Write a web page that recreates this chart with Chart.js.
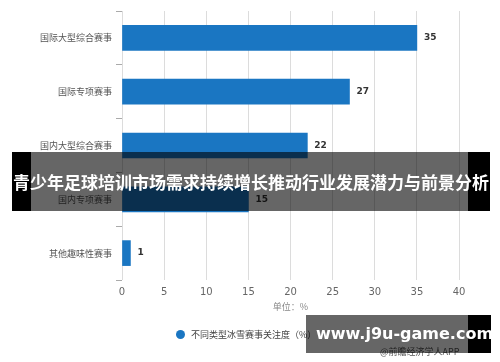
<!DOCTYPE html>
<html>
<head>
<meta charset="utf-8">
<script src="https://cdn.jsdelivr.net/npm/chart.js@4"></script>
<style>
  body { margin: 0; background: #fff; }
  #wrap { position: relative; width: 500px; height: 362px; font-family: "Noto Sans CJK SC", sans-serif; }
  #legend { position: absolute; left: 176px; top: 328px; font-size: 9px; color: #444; white-space: nowrap; }
  #legend .dot { display: inline-block; width: 9px; height: 9px; border-radius: 50%; background: #1a76c2; vertical-align: -1px; margin-right: 6px; }
  #source { position: absolute; left: 380px; top: 345px; font-size: 9px; color: #555; }
  .band { position: absolute; background: rgba(0,0,0,0.6); color: #fff; font-weight: bold; white-space: nowrap; }
  #band1 { left: 12px; top: 152px; width: 478px; height: 59px; font-size: 17px; line-height: 59px; text-align: center; }
  #band2 { left: 306px; top: 315px; width: 185px; height: 38px; font-size: 16px; line-height: 38px; font-family: "DejaVu Sans", sans-serif; }
</style>
</head>
<body>
<div id="wrap">
  <canvas id="chart" width="500" height="362"></canvas>
  <div id="legend"><span class="dot"></span>不同类型冰雪赛事关注度（%）</div>
  <div id="source">@前瞻经济学人APP</div>
  <div class="band" id="band1"><div style="position:absolute;left:0;top:0;width:19px;height:59px;background:#000"></div><div style="position:absolute;right:0;top:0;width:22px;height:59px;background:#000"></div><span style="position:relative">青少年足球培训市场需求持续增长推动行业发展潜力与前景分析</span></div>
  <div class="band" id="band2"><div style="position:absolute;right:0;top:0;width:23px;height:38px;background:#000"></div><span style="position:relative;left:10px">www.j9u-game.com</span></div>
</div>
<script>
const categories = ['国际大型综合赛事', '国际专项赛事', '国内大型综合赛事', '国内专项赛事', '其他趣味性赛事'];
const values = [35, 27, 22, 15, 1];
const seriesName = '不同类型冰雪赛事关注度（%）';

const valueLabels = {
  id: 'valueLabels',
  afterDatasetsDraw(chart) {
    const ctx = chart.ctx;
    const meta = chart.getDatasetMeta(0);
    ctx.save();
    ctx.font = 'bold 9px "DejaVu Sans", sans-serif';
    ctx.fillStyle = '#333';
    ctx.textBaseline = 'middle';
    meta.data.forEach(function (bar, i) {
      ctx.fillText(values[i], bar.x + 7, bar.y);
    });
    ctx.restore();
  }
};

new Chart('chart', {
  type: 'bar',
  data: {
    labels: categories,
    datasets: [{
      label: seriesName,
      data: values,
      backgroundColor: '#1a76c2',
      barThickness: 25
    }]
  },
  options: {
    indexAxis: 'y',
    responsive: false,
    animation: false,
    layout: { padding: { top: 11, right: 41, bottom: 50, left: 0 } },
    plugins: {
      legend: { display: false },
      tooltip: { enabled: false }
    },
    scales: {
      x: {
        min: 0,
        max: 40,
        ticks: { stepSize: 5, color: '#666', font: { size: 10, family: '"DejaVu Sans", sans-serif' }, padding: 6 },
        grid: { color: '#dcdcdc', drawTicks: false },
        border: { display: false },
        title: { display: true, text: '单位：%', color: '#888', font: { size: 9, family: '"Noto Sans CJK SC"' }, padding: { top: 3, bottom: 0 } },
        afterFit(scale) { scale.height = 32; }
      },
      y: {
        ticks: { color: '#555', font: { size: 9, family: '"Noto Sans CJK SC"' }, padding: 4 },
        grid: { drawOnChartArea: false, drawTicks: true, tickLength: 6, color: '#aaa' },
        border: { display: false },
        afterFit(scale) { scale.width = 122; }
      }
    }
  },
  plugins: [valueLabels]
});
</script>
</body>
</html>
